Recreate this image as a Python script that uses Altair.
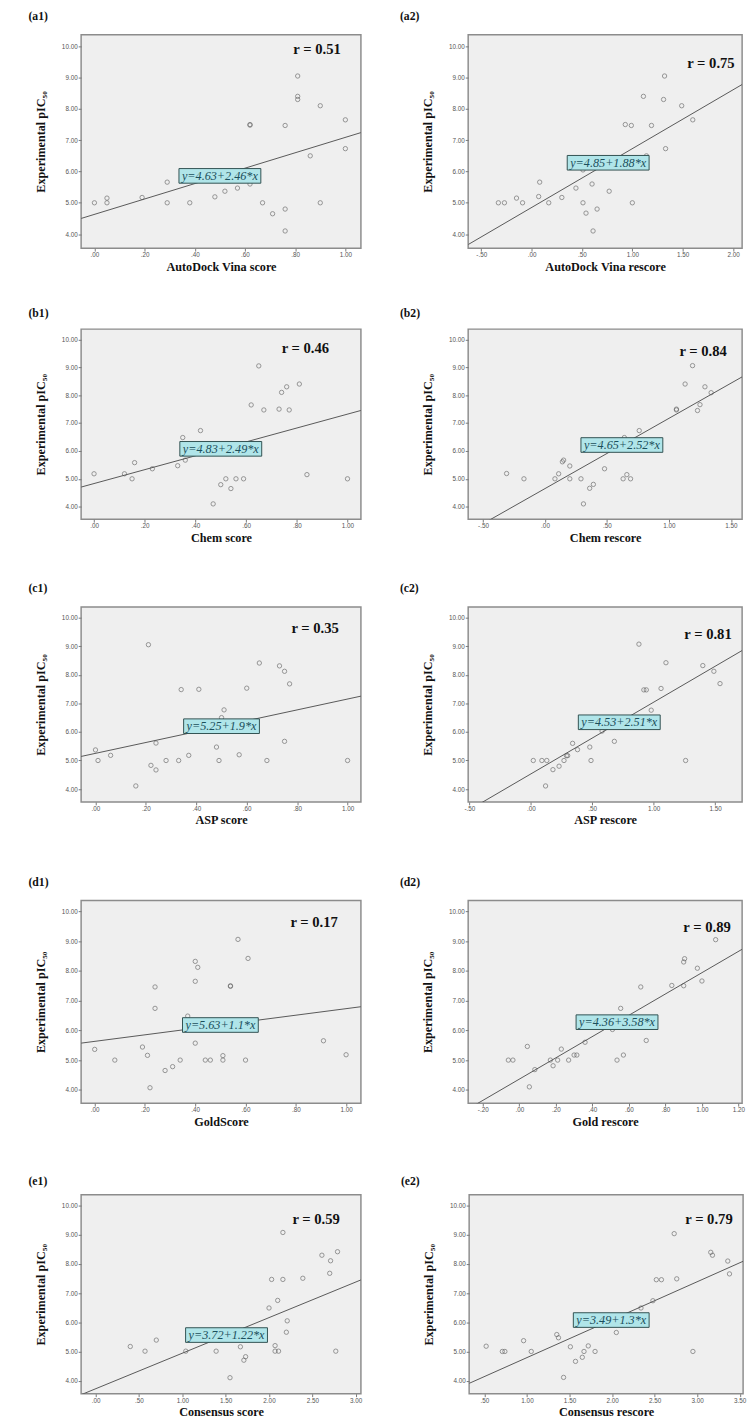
import altair as alt
import pandas as pd

# ---------------- data ----------------
a1_x = [0.00, 0.05, 0.05, 0.19, 0.29, 0.29, 0.38, 0.48, 0.52, 0.57, 0.62, 0.62, 0.62, 0.67, 0.71, 0.76, 0.76, 0.76, 0.81, 0.81, 0.81, 0.86, 0.90, 0.90, 1.00, 1.00]
a1_y = [5.00, 5.15, 5.00, 5.17, 5.66, 5.00, 5.00, 5.19, 5.37, 5.47, 5.60, 7.50, 7.48, 5.00, 4.65, 4.80, 4.10, 7.47, 9.05, 8.40, 8.30, 6.50, 8.10, 5.00, 7.65, 6.73]

a2_x = [-0.33, -0.27, -0.15, -0.09, 0.07, 0.08, 0.17, 0.30, 0.44, 0.51, 0.51, 0.54, 0.60, 0.61, 0.65, 0.77, 0.93, 0.99, 1.00, 1.11, 1.14, 1.19, 1.31, 1.32, 1.33, 1.49, 1.60]
a2_y = [5.00, 5.00, 5.15, 5.00, 5.20, 5.66, 5.00, 5.17, 5.47, 5.00, 6.05, 4.67, 5.60, 4.10, 4.80, 5.37, 7.50, 7.47, 5.00, 8.40, 6.50, 7.47, 8.30, 9.05, 6.73, 8.10, 7.65]

b1_x = [0.00, 0.12, 0.15, 0.16, 0.23, 0.33, 0.35, 0.36, 0.42, 0.47, 0.50, 0.52, 0.54, 0.56, 0.59, 0.62, 0.65, 0.67, 0.73, 0.74, 0.76, 0.77, 0.81, 0.84, 1.00]
b1_y = [5.18, 5.18, 5.00, 5.58, 5.36, 5.47, 6.48, 5.67, 6.73, 4.10, 4.79, 5.00, 4.65, 5.00, 5.00, 7.65, 9.05, 7.47, 7.50, 8.10, 8.30, 7.47, 8.40, 5.15, 5.00]

b2_x = [-0.31, -0.17, 0.08, 0.11, 0.14, 0.15, 0.20, 0.20, 0.29, 0.31, 0.36, 0.39, 0.48, 0.63, 0.64, 0.66, 0.69, 0.76, 1.06, 1.06, 1.13, 1.19, 1.23, 1.25, 1.29, 1.34]
b2_y = [5.19, 5.00, 5.00, 5.18, 5.61, 5.67, 5.46, 5.00, 5.00, 4.10, 4.66, 4.80, 5.36, 5.00, 6.48, 5.15, 5.00, 6.73, 7.50, 7.47, 8.40, 9.06, 7.45, 7.66, 8.30, 8.09]

c1_x = [0.00, 0.01, 0.06, 0.16, 0.21, 0.22, 0.24, 0.24, 0.28, 0.33, 0.34, 0.37, 0.41, 0.48, 0.49, 0.50, 0.51, 0.57, 0.60, 0.65, 0.68, 0.73, 0.75, 0.75, 0.77, 1.00]
c1_y = [5.37, 5.00, 5.18, 4.11, 9.05, 4.83, 5.61, 4.67, 5.00, 5.00, 7.48, 5.18, 7.49, 5.47, 5.00, 6.50, 6.77, 5.20, 7.53, 8.41, 5.00, 8.31, 8.12, 5.67, 7.68, 5.00]

c2_x = [0.02, 0.09, 0.13, 0.12, 0.18, 0.23, 0.27, 0.29, 0.30, 0.34, 0.38, 0.48, 0.49, 0.58, 0.68, 0.88, 0.92, 0.94, 0.94, 0.98, 1.06, 1.10, 1.26, 1.40, 1.49, 1.54]
c2_y = [5.00, 5.00, 5.00, 4.11, 4.68, 4.80, 5.00, 5.17, 5.17, 5.60, 5.38, 5.47, 5.00, 6.03, 5.67, 9.07, 7.47, 7.47, 6.50, 6.76, 7.52, 8.42, 5.00, 8.32, 8.12, 7.69]

d1_x = [0.00, 0.08, 0.19, 0.21, 0.22, 0.24, 0.24, 0.28, 0.31, 0.34, 0.37, 0.40, 0.40, 0.40, 0.41, 0.44, 0.46, 0.51, 0.51, 0.54, 0.54, 0.57, 0.60, 0.61, 0.91, 1.00]
d1_y = [5.36, 5.00, 5.44, 5.16, 4.07, 6.74, 7.46, 4.65, 4.78, 5.00, 6.48, 5.57, 7.65, 8.32, 8.12, 5.00, 5.00, 5.15, 5.00, 7.50, 7.48, 9.06, 5.00, 8.42, 5.65, 5.18]

d2_x = [-0.06, -0.035, 0.044, 0.055, 0.085, 0.17, 0.185, 0.21, 0.23, 0.27, 0.30, 0.315, 0.36, 0.51, 0.535, 0.555, 0.57, 0.665, 0.695, 0.835, 0.90, 0.90, 0.905, 0.975, 1.00, 1.075]
d2_y = [5.00, 5.00, 5.46, 4.10, 4.68, 5.00, 4.81, 5.00, 5.37, 5.00, 5.17, 5.17, 5.60, 6.03, 5.00, 6.74, 5.17, 7.46, 5.66, 7.51, 7.50, 8.30, 8.41, 8.09, 7.66, 9.05]

e1_x = [0.40, 0.57, 0.70, 1.04, 1.39, 1.55, 1.67, 1.71, 1.73, 2.00, 2.03, 2.07, 2.07, 2.10, 2.11, 2.16, 2.16, 2.20, 2.21, 2.39, 2.61, 2.70, 2.71, 2.77, 2.79]
e1_y = [5.17, 5.01, 5.39, 5.01, 5.01, 4.10, 5.16, 4.70, 4.82, 6.49, 7.47, 5.20, 5.01, 6.75, 5.01, 7.47, 9.08, 5.66, 6.05, 7.51, 8.30, 7.68, 8.11, 5.01, 8.42]

e2_x = [0.52, 0.71, 0.74, 0.96, 1.05, 1.35, 1.37, 1.43, 1.51, 1.57, 1.65, 1.67, 1.72, 1.80, 2.05, 2.34, 2.48, 2.52, 2.58, 2.73, 2.76, 2.95, 3.16, 3.18, 3.36, 3.38]
e2_y = [5.18, 5.00, 5.00, 5.37, 5.00, 5.58, 5.47, 4.11, 5.16, 4.66, 4.80, 5.00, 5.19, 5.00, 5.65, 6.49, 6.74, 7.46, 7.46, 9.04, 7.49, 5.00, 8.40, 8.30, 8.10, 7.66]

panel_labels = ["(a1)", "(a2)", "(b1)", "(b2)", "(c1)", "(c2)", "(d1)", "(d2)", "(e1)", "(e2)"]
x_titles = ["AutoDock Vina score", "AutoDock Vina rescore", "Chem score", "Chem rescore",
            "ASP score", "ASP rescore", "GoldScore", "Gold rescore",
            "Consensus score", "Consensus rescore"]
r_values = ["0.51", "0.75", "0.46", "0.84", "0.35", "0.81", "0.17", "0.89", "0.59", "0.79"]
intercepts = ["4.63", "4.85", "4.83", "4.65", "5.25", "4.53", "5.63", "4.36", "3.72", "3.49"]
slopes = ["2.46", "1.88", "2.49", "2.52", "1.9", "2.51", "1.1", "3.58", "1.22", "1.3"]

x_ticks = [
    [0.0, 0.2, 0.4, 0.6, 0.8, 1.0],
    [-0.5, 0.0, 0.5, 1.0, 1.5, 2.0],
    [0.0, 0.2, 0.4, 0.6, 0.8, 1.0],
    [-0.5, 0.0, 0.5, 1.0, 1.5],
    [0.0, 0.2, 0.4, 0.6, 0.8, 1.0],
    [-0.5, 0.0, 0.5, 1.0, 1.5],
    [0.0, 0.2, 0.4, 0.6, 0.8, 1.0],
    [-0.2, 0.0, 0.2, 0.4, 0.6, 0.8, 1.0, 1.2],
    [0.0, 0.5, 1.0, 1.5, 2.0, 2.5, 3.0],
    [0.5, 1.0, 1.5, 2.0, 2.5, 3.0, 3.5],
]
y_ticks = [4, 5, 6, 7, 8, 9, 10]

# ---------------- scale / layout settings ----------------
x_domains = [
    [-0.053, 1.062], [-0.63, 2.09],
    [-0.051, 1.053], [-0.62, 1.59],
    [-0.057, 1.053], [-0.51, 1.72],
    [-0.054, 1.059], [-0.28, 1.22],
    [-0.167, 3.06], [0.32, 3.54],
]
Y_DOMAIN = [3.55, 10.37]
eq_centers = [0.5, 0.76, 0.5, 0.62, 0.5, 0.72, 0.5, 0.535, 1.51, 1.99]

xs = [a1_x, a2_x, b1_x, b2_x, c1_x, c2_x, d1_x, d2_x, e1_x, e2_x]
ys = [a1_y, a2_y, b1_y, b2_y, c1_y, c2_y, d1_y, d2_y, e1_y, e2_y]

LEFT_W, RIGHT_W = 287, 281
row_heights = [219, 195, 200, 208, 204]
title_offsets = [12, 9, 12, 12, 7]
row_spacing = [34, 38, 49, 47]
r_pos_left = [(45, 15), (57, 20), (47, 22), (48, 22), (46, 25)]
r_pos_right = [(32, 29), (40, 23), (35, 28), (36, 27), (35, 25)]

SERIF = "Liberation Serif"
SANS = "Liberation Sans"

X_LABEL_EXPR = ("abs(datum.value) < 1 ? (datum.value < 0 ? '-' : '') + "
                "substring(format(abs(datum.value), '.2f'), 1) : format(datum.value, '.2f')")

CHAR_W = {".": 0.25, "+": 0.675, "=": 0.675, "*": 0.5, "y": 0.444, "x": 0.444}


def text_width(s, fs):
    return sum(CHAR_W.get(c, 0.5) for c in s) * fs


def panel(i, w, h, r_dx, r_y, t_off, t_dx):
    a = float(intercepts[i])
    b = float(slopes[i])
    xd = x_domains[i]
    pts_df = pd.DataFrame({"x": xs[i], "y": ys[i]})
    line_df = pd.DataFrame({"x": xd, "y": [a + b * v for v in xd]})
    eq_text = f"y={intercepts[i]}+{slopes[i]}*x"
    ex = eq_centers[i]
    eq_df = pd.DataFrame({"x": [ex], "y": [a + b * ex], "t": [eq_text]})
    r_df = pd.DataFrame({"t": [f"r = {r_values[i]}"]})

    xscale = alt.Scale(domain=xd, nice=False, zero=False)
    yscale = alt.Scale(domain=Y_DOMAIN, nice=False, zero=False)

    xaxis = alt.Axis(values=x_ticks[i], labelExpr=X_LABEL_EXPR, title=x_titles[i],
                     grid=False, domain=False, tickSize=3, tickColor="#777",
                     labelFont=SANS, labelFontSize=6.5, labelColor="#555", labelPadding=1,
                     titleFont=SERIF, titleFontSize=12.5, titleFontWeight="bold",
                     titleColor="#111", titlePadding=2)
    yaxis = alt.Axis(values=y_ticks, format=".2f", title="Experimental pIC₅₀",
                     grid=False, domain=False, tickSize=3, tickColor="#777",
                     labelFont=SANS, labelFontSize=6.5, labelColor="#555", labelPadding=1,
                     titleFont=SERIF, titleFontSize=12.5, titleFontWeight="bold",
                     titleColor="#111", titlePadding=14)

    X = alt.X("x:Q", scale=xscale, axis=xaxis)
    Y = alt.Y("y:Q", scale=yscale, axis=yaxis)

    pts = alt.Chart(pts_df).mark_point(shape="circle", filled=False, size=20,
                                       color="#5e5e5e", strokeWidth=0.9).encode(x=X, y=Y)
    line = alt.Chart(line_df).mark_line(clip=True, color="#555", strokeWidth=1).encode(x=X, y=Y)
    hw = text_width(eq_text, 12.5) / 2 + 3
    box = alt.Chart(eq_df).mark_rect(fill="#b0e5e9", stroke="#2f4f4f", strokeWidth=1,
                                     xOffset=-hw, x2Offset=hw, yOffset=-7.5, y2Offset=7.5).encode(
        x=X, x2="x", y=Y, y2="y",
    )
    eq = alt.Chart(eq_df).mark_text(font=SERIF, fontStyle="italic", fontSize=12.5,
                                    color="#1b4f5c", align="center", baseline="middle").encode(
        x=X, y=Y, text="t:N",
    )
    rtxt = alt.Chart(r_df).mark_text(font=SERIF, fontWeight="bold", fontSize=15,
                                     color="#111", align="center", baseline="middle").encode(
        x=alt.value(w - r_dx), y=alt.value(r_y), text="t:N",
    )
    return alt.layer(pts, line, box, eq, rtxt).properties(
        width=w, height=h,
        title=alt.TitleParams(text=panel_labels[i], anchor="start", frame="group",
                              dx=t_dx, offset=t_off, font=SERIF, fontSize=12,
                              fontWeight="bold", color="#111"),
    )


rows = []
for k in range(5):
    h = row_heights[k]
    left = panel(2 * k, LEFT_W, h, r_pos_left[k][0], r_pos_left[k][1], title_offsets[k], -54)
    right = panel(2 * k + 1, RIGHT_W, h, r_pos_right[k][0], r_pos_right[k][1], title_offsets[k], -70)
    rows.append(alt.hconcat(left, right, spacing=38))

chart = rows[0]
for k in range(1, 5):
    chart = alt.vconcat(chart, rows[k], spacing=row_spacing[k - 1])

chart = chart.properties(
    padding={"left": 20, "top": -17, "right": 0, "bottom": 0},
    background="white",
).configure_view(fill="#efefef", stroke="#8c8c8c", strokeWidth=1.5)

chart.save("out.html", embed_options={"renderer": "svg", "actions": False})
